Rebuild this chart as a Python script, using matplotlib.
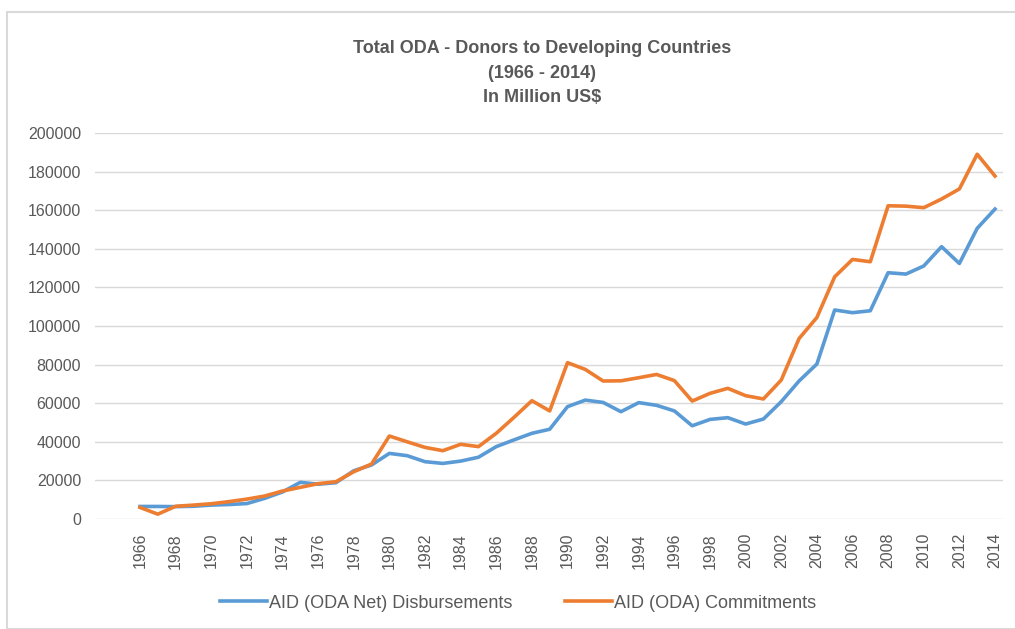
import matplotlib
matplotlib.use("Agg")
import matplotlib.pyplot as plt
from matplotlib.patches import Rectangle

# data (million US$)
years = list(range(1966, 2015))
disbursements = [6500, 6500, 6400, 6600, 7200, 7500, 8000, 10700, 14000, 19000,
                 18000, 18800, 25000, 28000, 34000, 32800, 29700, 28800, 30000, 32000,
                 37500, 41000, 44400, 46500, 58200, 61600, 60400, 55600, 60300, 58900,
                 56000, 48300, 51600, 52500, 49200, 51800, 60800, 71500, 80300, 108300,
                 106900, 107900, 127600, 126900, 131100, 141100, 132400, 150600, 160600]
commitments = [6000, 2500, 6600, 7200, 7900, 9000, 10300, 11900, 14500, 16400,
               18300, 19300, 24500, 28500, 43000, 40000, 37100, 35400, 38700, 37500,
               44400, 52700, 61300, 56000, 81000, 77500, 71500, 71600, 73200, 74900,
               71700, 61100, 65100, 67700, 63900, 62200, 72000, 93500, 104400, 125500,
               134500, 133300, 162300, 162100, 161300, 165800, 171000, 189000, 177700]
yticks = list(range(0, 200001, 20000))
title = "Total ODA - Donors to Developing Countries\n(1966 - 2014)\nIn Million US$"

text_font = ['Liberation Sans Narrow', 'Liberation Sans', 'DejaVu Sans']
grey = '#595959'

fig = plt.figure(figsize=(10.15, 6.29), dpi=100)
W, H = 1015, 629

# light frame round the chart
fig.patches.append(Rectangle((7 / W, 0), 1.0, 1 - 12 / H, transform=fig.transFigure,
                             fill=False, edgecolor='#d9d9d9', linewidth=1.5))

ax = fig.add_axes([95 / W, 1 - 519 / H, (1003 - 95) / W, (519 - 133) / H])

ax.plot(years, disbursements, color='#5B9BD5', linewidth=2.6,
        label='AID (ODA Net) Disbursements', solid_joinstyle='round')
ax.plot(years, commitments, color='#ED7D31', linewidth=2.6,
        label='AID (ODA) Commitments', solid_joinstyle='round')

ax.set_ylim(0, 200000)
ax.set_xlim(1966 - 45 / 17.81, 2014 + 8 / 17.81)
ax.set_yticks(yticks)
ax.set_yticklabels([str(v) for v in yticks], family=text_font, fontsize=11.5, color=grey)
ax.set_xticks(years[::2])
ax.set_xticklabels([str(y) for y in years[::2]], rotation=90, family='Liberation Sans',
                   fontsize=11.5, color=grey)
ax.tick_params(axis='both', length=0)
ax.tick_params(axis='y', pad=10)
ax.tick_params(axis='x', pad=10)
ax.grid(axis='y', color='#d9d9d9', linewidth=1)
ax.set_axisbelow(True)
for s in ax.spines.values():
    s.set_visible(False)

fig.text(542 / W, 1 - 73 / H, title, ha='center', va='center', family=text_font,
         fontsize=13, fontweight='bold', color=grey, linespacing=1.6)

fig.legend(loc='center', bbox_to_anchor=(518 / W, 1 - 603 / H), ncol=2, frameon=False,
           prop={'family': text_font, 'size': 13}, labelcolor=grey,
           handlelength=2.6, handletextpad=0.1, columnspacing=2.9)

fig.savefig('out.png', dpi=100)
